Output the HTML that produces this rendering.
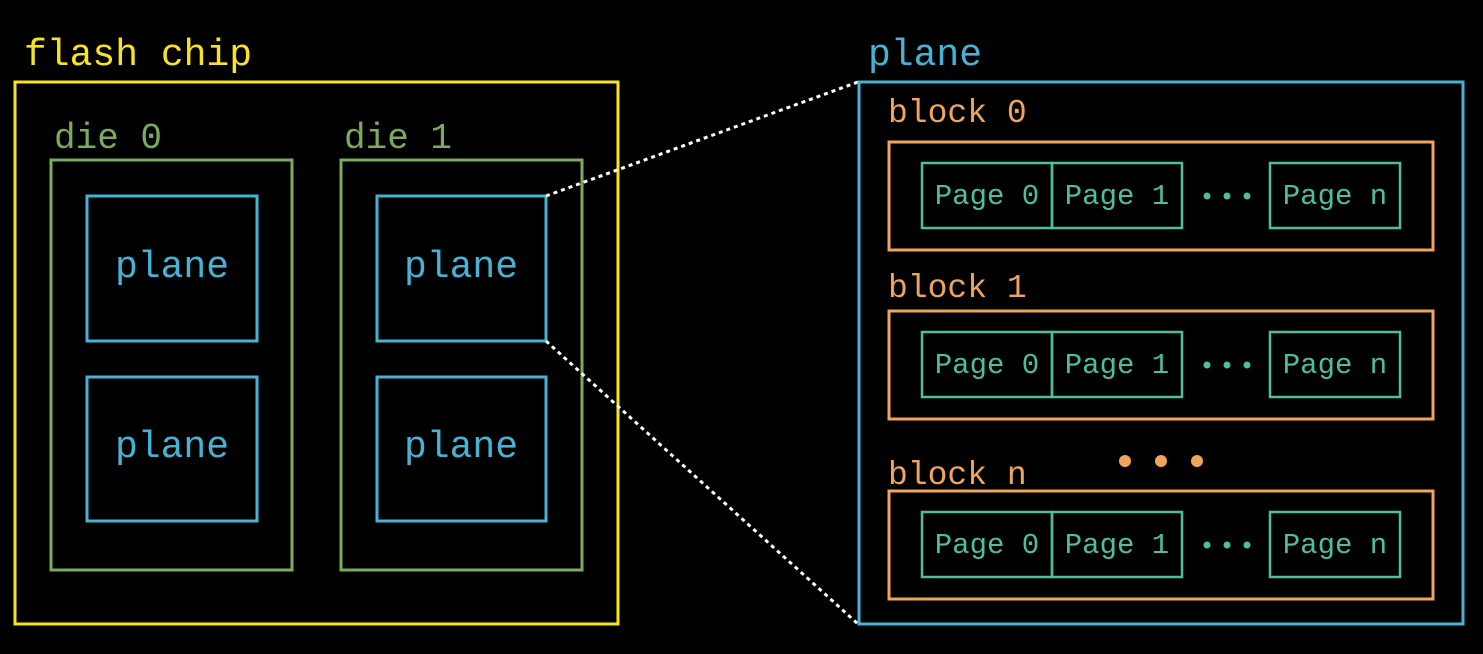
<!DOCTYPE html>
<html><head><meta charset="utf-8"><style>
html,body{margin:0;padding:0;background:#000;}
svg{display:block;}
text{font-family:"Liberation Mono",monospace;}
</style></head><body>
<svg width="1483" height="654" viewBox="0 0 1483 654" xmlns="http://www.w3.org/2000/svg">
<rect x="0" y="0" width="1483" height="654" fill="#000"/>
<g>
<text x="24" y="65" font-size="38" fill="#f8e322">flash chip</text>
<rect x="15" y="82" width="603" height="542" fill="none" stroke="#f8e322" stroke-width="3"/>
</g>
<g>
<text x="54" y="148" font-size="36" fill="#7aab5e">die 0</text>
<rect x="51" y="160" width="241" height="410" fill="none" stroke="#7aab5e" stroke-width="3"/>
<rect x="87" y="196" width="170" height="145" fill="none" stroke="#46b3d6" stroke-width="3"/>
<text x="172" y="277" font-size="38" fill="#46b3d6" text-anchor="middle">plane</text>
<rect x="87" y="377" width="170" height="144" fill="none" stroke="#46b3d6" stroke-width="3"/>
<text x="172" y="457" font-size="38" fill="#46b3d6" text-anchor="middle">plane</text>
</g>
<g>
<text x="344" y="148" font-size="36" fill="#7aab5e">die 1</text>
<rect x="341" y="160" width="241" height="410" fill="none" stroke="#7aab5e" stroke-width="3"/>
<rect x="377" y="196" width="169" height="145" fill="none" stroke="#46b3d6" stroke-width="3"/>
<text x="461" y="277" font-size="38" fill="#46b3d6" text-anchor="middle">plane</text>
<rect x="377" y="377" width="169" height="144" fill="none" stroke="#46b3d6" stroke-width="3"/>
<text x="461" y="457" font-size="38" fill="#46b3d6" text-anchor="middle">plane</text>
</g>
<g stroke="#fff" stroke-width="3" stroke-dasharray="4 4">
<line x1="546" y1="196" x2="858" y2="82"/>
<line x1="546" y1="341" x2="858" y2="624"/>
</g>
<g>
<text x="868" y="65" font-size="38" fill="#46b3d6">plane</text>
<rect x="859" y="82" width="604" height="542" fill="none" stroke="#46b3d6" stroke-width="3"/>
</g>
<g id="blocks"></g>
<g fill="#f0a55a">
<circle cx="1125" cy="461" r="6"/><circle cx="1161" cy="461" r="6"/><circle cx="1197" cy="461" r="6"/>
</g>
</svg>
<script>
const NS='http://www.w3.org/2000/svg';
const blockLabels=['block 0','block 1','block n'];
const blockTops=[142,311,491];
const labelYs=[122,297,484];
const g=document.getElementById('blocks');
function el(t,a){const e=document.createElementNS(NS,t);for(const k in a)e.setAttribute(k,a[k]);return e;}
blockLabels.forEach((lab,i)=>{
  const grp=el('g',{});
  
  
  const t=el('text',{x:888,y:labelYs[i],'font-size':33,fill:'#f0a55a'});t.textContent=lab;grp.appendChild(t);
  const top=blockTops[i];
  grp.appendChild(el('rect',{x:889,y:top,width:544,height:108,fill:'none',stroke:'#f0a55a','stroke-width':3}));
  const py=top+21;
  [[922,'Page 0'],[1052,'Page 1'],[1270,'Page n']].forEach(([x,s])=>{
    const r=el('rect',{x:x,y:py,width:130,height:65,fill:'none',stroke:'#4cbf9e','stroke-width':2.5});
    
    
    grp.appendChild(r);
    const tt=el('text',{x:x+65,y:py+41,'font-size':29,fill:'#4cbf9e','text-anchor':'middle'});tt.textContent=s;grp.appendChild(tt);
  });
  [1207,1227,1247].forEach(cx=>grp.appendChild(el('circle',{cx:cx,cy:py+33,r:3.5,fill:'#4cbf9e'})));
  g.appendChild(grp);
});
</script>
</body></html>
